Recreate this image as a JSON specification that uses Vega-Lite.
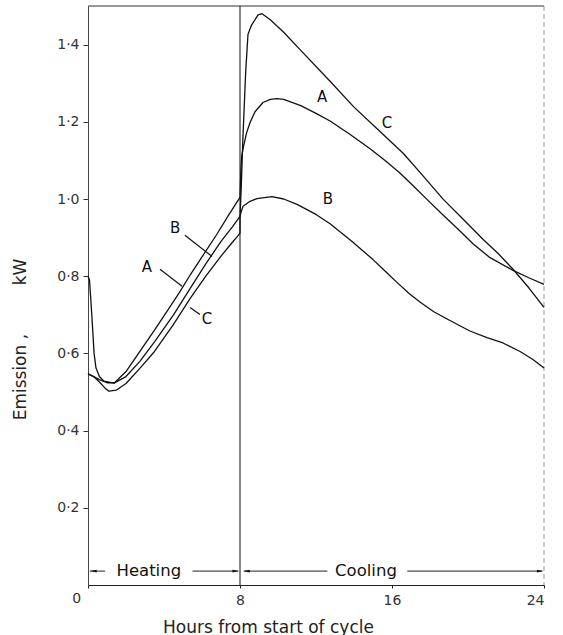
{
  "$schema": "https://vega.github.io/schema/vega-lite/v6.json",
  "autosize": {"type": "none"},
  "width": 456,
  "height": 579,
  "padding": {"left": 88, "top": 6, "right": 19, "bottom": 50},
  "background": "white",
  "config": {"view": {"stroke": null}, "font": "DejaVu Sans"},
  "datasets": {
    "curves": [
      {"s":"A","i":1,"h":0,"v":0.548},{"s":"A","i":2,"h":0.3,"v":0.540},{"s":"A","i":3,"h":0.6,"v":0.532},{"s":"A","i":4,"h":1.0,"v":0.524},{"s":"A","i":5,"h":1.4,"v":0.524},{"s":"A","i":6,"h":2.0,"v":0.553},{"s":"A","i":7,"h":2.74,"v":0.606},{"s":"A","i":8,"h":3.5,"v":0.660},{"s":"A","i":9,"h":4.2,"v":0.712},{"s":"A","i":10,"h":4.84,"v":0.760},{"s":"A","i":11,"h":5.4,"v":0.805},{"s":"A","i":12,"h":6.0,"v":0.850},{"s":"A","i":13,"h":6.8,"v":0.910},{"s":"A","i":14,"h":7.4,"v":0.958},{"s":"A","i":15,"h":8.0,"v":1.004},{"s":"A","i":16,"h":8.05,"v":1.08},{"s":"A","i":17,"h":8.09,"v":1.110},{"s":"A","i":18,"h":8.17,"v":1.133},{"s":"A","i":19,"h":8.35,"v":1.172},{"s":"A","i":20,"h":8.53,"v":1.198},{"s":"A","i":21,"h":8.79,"v":1.226},{"s":"A","i":22,"h":9.21,"v":1.250},{"s":"A","i":23,"h":9.6,"v":1.258},{"s":"A","i":24,"h":9.95,"v":1.260},{"s":"A","i":25,"h":10.3,"v":1.258},{"s":"A","i":26,"h":11.2,"v":1.242},{"s":"A","i":27,"h":12.0,"v":1.222},{"s":"A","i":28,"h":12.74,"v":1.202},{"s":"A","i":29,"h":13.8,"v":1.167},{"s":"A","i":30,"h":14.9,"v":1.128},{"s":"A","i":31,"h":15.7,"v":1.097},{"s":"A","i":32,"h":16.4,"v":1.068},{"s":"A","i":33,"h":17.1,"v":1.035},{"s":"A","i":34,"h":17.84,"v":0.999},{"s":"A","i":35,"h":18.7,"v":0.958},{"s":"A","i":36,"h":19.58,"v":0.917},{"s":"A","i":37,"h":20.26,"v":0.884},{"s":"A","i":38,"h":21.16,"v":0.848},{"s":"A","i":39,"h":22.37,"v":0.815},{"s":"A","i":40,"h":23.2,"v":0.796},{"s":"A","i":41,"h":24,"v":0.779},
      {"s":"B","i":1,"h":0,"v":0.80},{"s":"B","i":2,"h":0.08,"v":0.79},{"s":"B","i":3,"h":0.2,"v":0.70},{"s":"B","i":4,"h":0.32,"v":0.60},{"s":"B","i":5,"h":0.42,"v":0.562},{"s":"B","i":6,"h":0.6,"v":0.540},{"s":"B","i":7,"h":0.84,"v":0.528},{"s":"B","i":8,"h":1.37,"v":0.523},{"s":"B","i":9,"h":2.0,"v":0.540},{"s":"B","i":10,"h":2.74,"v":0.580},{"s":"B","i":11,"h":3.5,"v":0.630},{"s":"B","i":12,"h":4.5,"v":0.700},{"s":"B","i":13,"h":5.37,"v":0.768},{"s":"B","i":14,"h":6.2,"v":0.832},{"s":"B","i":15,"h":7.0,"v":0.890},{"s":"B","i":16,"h":7.6,"v":0.928},{"s":"B","i":17,"h":8.0,"v":0.955},{"s":"B","i":18,"h":8.05,"v":0.965},{"s":"B","i":19,"h":8.16,"v":0.981},{"s":"B","i":20,"h":8.53,"v":0.994},{"s":"B","i":21,"h":8.89,"v":1.001},{"s":"B","i":22,"h":9.68,"v":1.006},{"s":"B","i":23,"h":10.3,"v":1.000},{"s":"B","i":24,"h":11.0,"v":0.986},{"s":"B","i":25,"h":12.0,"v":0.960},{"s":"B","i":26,"h":12.74,"v":0.936},{"s":"B","i":27,"h":13.9,"v":0.890},{"s":"B","i":28,"h":15.0,"v":0.843},{"s":"B","i":29,"h":15.7,"v":0.810},{"s":"B","i":30,"h":16.26,"v":0.784},{"s":"B","i":31,"h":16.9,"v":0.755},{"s":"B","i":32,"h":17.47,"v":0.733},{"s":"B","i":33,"h":18.2,"v":0.708},{"s":"B","i":34,"h":18.9,"v":0.689},{"s":"B","i":35,"h":20.1,"v":0.658},{"s":"B","i":36,"h":21.0,"v":0.641},{"s":"B","i":37,"h":21.84,"v":0.627},{"s":"B","i":38,"h":22.74,"v":0.605},{"s":"B","i":39,"h":23.4,"v":0.585},{"s":"B","i":40,"h":24,"v":0.562},
      {"s":"C","i":1,"h":0,"v":0.546},{"s":"C","i":2,"h":0.3,"v":0.540},{"s":"C","i":3,"h":0.6,"v":0.526},{"s":"C","i":4,"h":0.9,"v":0.510},{"s":"C","i":5,"h":1.1,"v":0.502},{"s":"C","i":6,"h":1.5,"v":0.505},{"s":"C","i":7,"h":2.0,"v":0.522},{"s":"C","i":8,"h":2.74,"v":0.562},{"s":"C","i":9,"h":3.5,"v":0.605},{"s":"C","i":10,"h":4.5,"v":0.675},{"s":"C","i":11,"h":5.37,"v":0.742},{"s":"C","i":12,"h":6.2,"v":0.800},{"s":"C","i":13,"h":7.0,"v":0.852},{"s":"C","i":14,"h":7.6,"v":0.888},{"s":"C","i":15,"h":7.9,"v":0.905},{"s":"C","i":16,"h":8.0,"v":0.912},{"s":"C","i":17,"h":8.0,"v":0.95},{"s":"C","i":18,"h":8.08,"v":1.05},{"s":"C","i":19,"h":8.15,"v":1.154},{"s":"C","i":20,"h":8.3,"v":1.33},{"s":"C","i":21,"h":8.42,"v":1.426},{"s":"C","i":22,"h":8.6,"v":1.450},{"s":"C","i":23,"h":8.95,"v":1.477},{"s":"C","i":24,"h":9.16,"v":1.480},{"s":"C","i":25,"h":9.58,"v":1.465},{"s":"C","i":26,"h":10.3,"v":1.432},{"s":"C","i":27,"h":11.16,"v":1.387},{"s":"C","i":28,"h":12.74,"v":1.305},{"s":"C","i":29,"h":14.0,"v":1.238},{"s":"C","i":30,"h":15.37,"v":1.175},{"s":"C","i":31,"h":16.6,"v":1.118},{"s":"C","i":32,"h":17.6,"v":1.062},{"s":"C","i":33,"h":18.7,"v":0.999},{"s":"C","i":34,"h":19.8,"v":0.945},{"s":"C","i":35,"h":20.8,"v":0.895},{"s":"C","i":36,"h":21.6,"v":0.858},{"s":"C","i":37,"h":22.37,"v":0.818},{"s":"C","i":38,"h":23.2,"v":0.770},{"s":"C","i":39,"h":24,"v":0.719}
    ],
    "labels": [
      {"t":"A","h":12.32,"v":1.263},{"t":"C","h":15.74,"v":1.198},{"t":"B","h":12.63,"v":0.999},
      {"t":"A","h":3.1,"v":0.823},{"t":"B","h":4.58,"v":0.926},{"t":"C","h":6.26,"v":0.688}
    ],
    "pointers": [
      {"h":3.79,"v":0.818,"h2":4.95,"v2":0.774},
      {"h":5.1,"v":0.906,"h2":6.53,"v2":0.851},
      {"h":5.37,"v":0.719,"h2":5.89,"v2":0.701}
    ],
    "phase": [
      {"t":"Heating","h":3.2,"v":0.036},{"t":"Cooling","h":14.63,"v":0.036}
    ],
    "segs": [
      {"h":0.1,"h2":0.9,"v":0.036},{"h":5.5,"h2":7.9,"v":0.036},{"h":8.2,"h2":12.6,"v":0.036},{"h":16.8,"h2":23.9,"v":0.036}
    ],
    "arrows": [
      {"h":0.28,"v":0.036,"d":"L"},{"h":7.78,"v":0.036,"d":"R"},{"h":8.34,"v":0.036,"d":"L"},{"h":23.8,"v":0.036,"d":"R"}
    ]
  },
  "layer": [
    {
      "data": {"values": [{"v": 1.5}]},
      "mark": {"type": "rule", "color": "#333", "strokeWidth": 1.2},
      "encoding": {"y": {"field": "v", "type": "quantitative", "scale": {"domain": [0, 1.5], "nice": false}}}
    },
    {
      "data": {"values": [{"h": 24}]},
      "mark": {"type": "rule", "color": "#999", "strokeWidth": 1, "strokeDash": [5, 3]},
      "encoding": {"x": {"field": "h", "type": "quantitative"}}
    },
    {
      "data": {"values": [{"h": 8}]},
      "mark": {"type": "rule", "color": "#111", "strokeWidth": 1},
      "encoding": {"x": {"field": "h", "type": "quantitative"}}
    },
    {
      "data": {"name": "curves"},
      "mark": {"type": "line", "color": "#111", "strokeWidth": 1.3, "strokeJoin": "round"},
      "encoding": {
        "x": {"field": "h", "type": "quantitative", "scale": {"domain": [0, 24], "nice": false},
          "axis": {"values": [0, 8, 16, 24], "grid": false, "domainColor": "#222", "tickColor": "#222", "tickSize": 3,
            "labelFont": "DejaVu Sans", "labelFontSize": 14, "labelColor": "#333", "labelPadding": 5,
            "labelExpr": "datum.value == 0 ? '' : datum.label",
            "title": "Hours from start of cycle", "titleFont": "DejaVu Sans", "titleFontSize": 17, "titleFontWeight": "normal", "titleColor": "#222",
            "titleX": 180, "titleY": 47, "titleAlign": "center", "titleBaseline": "alphabetic"}},
        "y": {"field": "v", "type": "quantitative", "scale": {"domain": [0, 1.5], "nice": false},
          "axis": {"values": [0.2, 0.4, 0.6, 0.8, 1.0, 1.2, 1.4], "grid": false, "domainColor": "#444", "tickColor": "#333", "tickSize": 5,
            "labelFont": "DejaVu Sans", "labelFontSize": 14, "labelColor": "#333", "labelPadding": 4,
            "labelExpr": "replace(format(datum.value, '.1f'), '.', '·')",
            "title": "Emission ,\u00a0\u00a0\u00a0\u00a0\u00a0\u00a0\u00a0\u00a0\u00a0kW", "titleFont": "DejaVu Sans", "titleFontSize": 17, "titleFontWeight": "normal", "titleColor": "#222",
            "titleX": -68, "titleY": 333, "titleAlign": "center", "titleBaseline": "middle", "titleAngle": -90}},
        "detail": {"field": "s"},
        "order": {"field": "i", "type": "quantitative"}
      }
    },
    {
      "data": {"name": "pointers"},
      "mark": {"type": "rule", "color": "#111", "strokeWidth": 1.2},
      "encoding": {
        "x": {"field": "h", "type": "quantitative"}, "y": {"field": "v", "type": "quantitative"},
        "x2": {"field": "h2"}, "y2": {"field": "v2"}
      }
    },
    {
      "data": {"name": "labels"},
      "mark": {"type": "text", "font": "DejaVu Sans", "fontSize": 15, "color": "#111", "align": "center", "baseline": "middle"},
      "encoding": {"x": {"field": "h", "type": "quantitative"}, "y": {"field": "v", "type": "quantitative"}, "text": {"field": "t"}}
    },
    {
      "data": {"name": "segs"},
      "mark": {"type": "rule", "color": "#222", "strokeWidth": 1},
      "encoding": {"x": {"field": "h", "type": "quantitative"}, "x2": {"field": "h2"}, "y": {"field": "v", "type": "quantitative"}}
    },
    {
      "data": {"name": "arrows"},
      "transform": [{"filter": "datum.d == 'L'"}],
      "mark": {"type": "point", "shape": "M1,-0.4L-1,0L1,0.4Z", "filled": true, "color": "#111", "size": 45, "opacity": 1},
      "encoding": {"x": {"field": "h", "type": "quantitative"}, "y": {"field": "v", "type": "quantitative"}}
    },
    {
      "data": {"name": "arrows"},
      "transform": [{"filter": "datum.d == 'R'"}],
      "mark": {"type": "point", "shape": "M-1,-0.4L1,0L-1,0.4Z", "filled": true, "color": "#111", "size": 45, "opacity": 1},
      "encoding": {"x": {"field": "h", "type": "quantitative"}, "y": {"field": "v", "type": "quantitative"}}
    },
    {
      "data": {"name": "phase"},
      "mark": {"type": "text", "font": "DejaVu Sans", "fontSize": 16.5, "color": "#111", "align": "center", "baseline": "middle"},
      "encoding": {"x": {"field": "h", "type": "quantitative"}, "y": {"field": "v", "type": "quantitative"}, "text": {"field": "t"}}
    },
    {
      "data": {"values": [{"t": "0", "h": -0.6, "v": -0.036}]},
      "mark": {"type": "text", "font": "DejaVu Sans", "fontSize": 14, "color": "#333", "align": "center", "baseline": "middle"},
      "encoding": {"x": {"field": "h", "type": "quantitative"}, "y": {"field": "v", "type": "quantitative"}, "text": {"field": "t"}}
    }
  ]
}
